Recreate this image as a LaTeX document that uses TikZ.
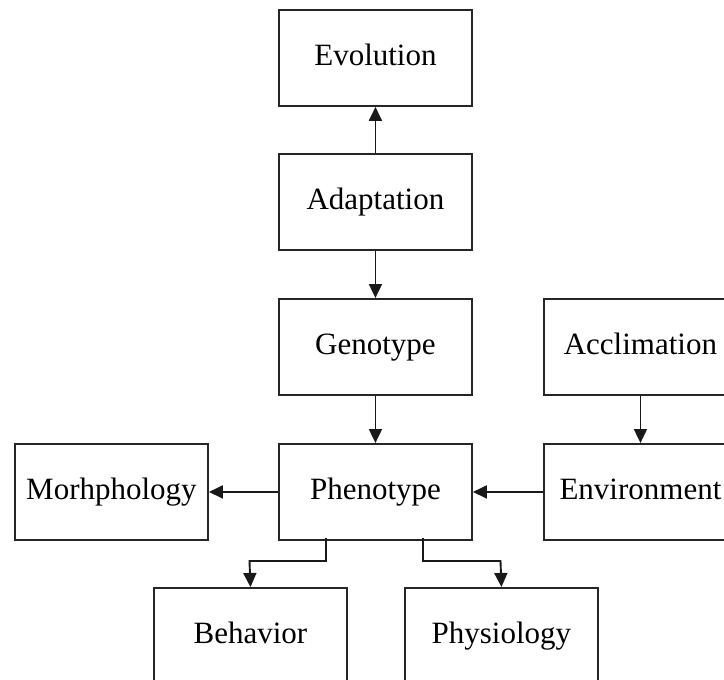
\documentclass[tikz,border=0pt]{standalone}
\usepackage{fontspec}
\setmainfont{Liberation Serif}
\usetikzlibrary{arrows.meta}
\begin{document}
\begin{tikzpicture}[x=1pt,y=-1pt,
  box/.style={draw=black!85,line width=1.9pt,minimum width=193pt,minimum height=96pt,
    inner sep=0pt,text height=21pt,text depth=5pt,
    font=\fontsize{31}{36}\selectfont,anchor=north west},
  link/.style={draw=black!90,line width=1.9pt,-{Triangle[width=13pt,length=14pt]}}]
\useasboundingbox (0,0) rectangle (724,680);
\node[box] (evo) at (278,9) {Evolution};
\node[box] (ada) at (278,153) {Adaptation};
\node[box] (gen) at (278,298) {Genotype};
\node[box] (acc) at (543,298) {Acclimation};
\node[box] (phe) at (278,443) {Phenotype};
\node[box] (env) at (543,443) {Environment};
\node[box] (mor) at (14,443) {Morhphology};
\node[box] (beh) at (153,587) {Behavior};
\node[box] (phy) at (404,587) {Physiology};
\draw[link] (ada.north) -- (evo.south);
\draw[link] (ada.south) -- (gen.north);
\draw[link] (gen.south) -- (phe.north);
\draw[link] (acc.south) -- (env.north);
\draw[link] (env.west) -- (phe.east);
\draw[link] (phe.west) -- (mor.east);
\coordinate (bl) at (326,538);
\coordinate (br) at (423,538);
\draw[link] (bl) |- (249.5,561) -- (beh.north);
\draw[link] (br) |- (500.5,561) -- (phy.north);
\end{tikzpicture}
\end{document}
